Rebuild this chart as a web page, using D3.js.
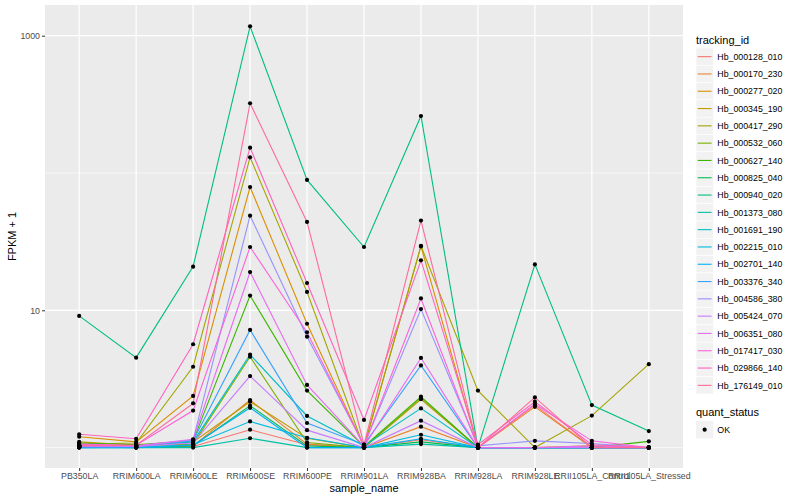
<!DOCTYPE html>
<html>
<head>
<meta charset="utf-8">
<script src="https://cdn.jsdelivr.net/npm/d3@7"></script>
<style>
  body { margin: 0; background: #fff; }
  svg text { font-family: "Liberation Sans", Arial, sans-serif; }
</style>
</head>
<body>
<div id="chart"></div>
<script>
// samples on the x axis
const samples = ["PB350LA", "RRIM600LA", "RRIM600LE", "RRIM600SE", "RRIM600PE", "RRIM901LA",
  "RRIM928BA", "RRIM928LA", "RRIM928LE", "RRII105LA_Control", "RRII105LA_Stressed"];

const trackingIds = ["Hb_000128_010", "Hb_000170_230", "Hb_000277_020", "Hb_000345_190",
  "Hb_000417_290", "Hb_000532_060", "Hb_000627_140", "Hb_000825_040", "Hb_000940_020",
  "Hb_001373_080", "Hb_001691_190", "Hb_002215_010", "Hb_002701_140", "Hb_003376_340",
  "Hb_004586_380", "Hb_005424_070", "Hb_006351_080", "Hb_017417_030", "Hb_029866_140",
  "Hb_176149_010"];

// FPKM + 1, one row per tracking id, one value per sample
const fpkm = [
  [1.02, 1.00, 1.02, 1.35, 1.05, 1.00, 1.14, 1.00, 2.04, 1.00, 1.00],
  [1.03, 1.01, 1.03, 2.22, 1.06, 1.00, 1.42, 1.00, 1.98, 1.00, 1.00],
  [1.20, 1.10, 2.38, 79, 7.98, 1.02, 29.2, 1.00, 1.00, 1.00, 1.00],
  [1.10, 1.04, 1.10, 2.16, 1.17, 1.00, 2.25, 1.00, 1.00, 1.03, 1.00],
  [1.06, 1.08, 3.88, 130, 13.6, 1.00, 29.5, 2.60, 1.00, 1.71, 4.05],
  [1.04, 1.03, 1.06, 4.59, 1.09, 1.00, 2.30, 1.00, 1.00, 1.00, 1.00],
  [1.08, 1.05, 1.12, 12.8, 2.60, 1.02, 2.35, 1.00, 1.00, 1.00, 1.11],
  [1.02, 1.01, 1.03, 2.02, 1.03, 1.00, 1.10, 1.00, 1.00, 1.00, 1.00],
  [9.10, 4.52, 20.8, 1170, 89, 28.9, 260, 1.00, 21.6, 2.04, 1.32],
  [1.00, 1.00, 1.00, 1.17, 1.00, 1.00, 1.06, 1.00, 1.00, 1.00, 1.00],
  [1.02, 1.02, 1.10, 4.75, 1.70, 1.03, 1.93, 1.00, 1.00, 1.00, 1.00],
  [1.01, 1.00, 1.05, 1.55, 1.18, 1.00, 1.24, 1.00, 1.00, 1.00, 1.00],
  [1.00, 1.00, 1.04, 1.95, 1.00, 1.00, 1.16, 1.00, 1.00, 1.00, 1.00],
  [1.00, 1.01, 1.12, 7.19, 1.51, 1.05, 3.97, 1.00, 1.00, 1.00, 1.00],
  [1.02, 1.02, 1.14, 48.9, 6.42, 1.04, 10.2, 1.03, 1.12, 1.07, 1.00],
  [1.03, 1.02, 1.08, 3.32, 1.34, 1.00, 1.57, 1.00, 1.00, 1.00, 1.00],
  [1.04, 1.03, 1.15, 19.0, 2.86, 1.02, 4.50, 1.00, 1.00, 1.03, 1.00],
  [1.06, 1.04, 1.86, 28.9, 6.92, 1.03, 12.2, 1.00, 2.08, 1.12, 1.00],
  [1.25, 1.16, 5.66, 153, 15.8, 1.59, 23.1, 1.05, 2.16, 1.05, 1.00],
  [1.03, 1.04, 2.10, 322, 44, 1.05, 45, 1.00, 2.32, 1.00, 1.00]
];

const yMajor = [10, 1000];
const yMinor = [1, 100];

const width = 800, height = 500;
const panel = { left: 45, right: 683, top: 5, bottom: 468 };

// R style hcl() (polar CIE-Luv) -> hex, like ggplot's hue palette
function hclLuv(h, c, l) {
  const Xn = 95.047, Yn = 100, Zn = 108.883;
  const un = 4 * Xn / (Xn + 15 * Yn + 3 * Zn), vn = 9 * Yn / (Xn + 15 * Yn + 3 * Zn);
  const hr = h * Math.PI / 180;
  const u = c * Math.cos(hr), v = c * Math.sin(hr);
  const Y = l > 8 ? Yn * Math.pow((l + 16) / 116, 3) : Yn * l / 903.3;
  const up = u / (13 * l) + un, vp = v / (13 * l) + vn;
  const X = Y * 9 * up / (4 * vp);
  const Z = Y * (12 - 3 * up - 20 * vp) / (4 * vp);
  const xs = X / 100, ys = Y / 100, zs = Z / 100;
  let r = 3.2404542 * xs - 1.5371385 * ys - 0.4985314 * zs;
  let g = -0.9692660 * xs + 1.8760108 * ys + 0.0415560 * zs;
  let b = 0.0556434 * xs - 0.2040259 * ys + 1.0572252 * zs;
  const gam = t => t <= 0.0031308 ? 12.92 * t : 1.055 * Math.pow(t, 1 / 2.4) - 0.055;
  const cl = t => Math.max(0, Math.min(255, Math.round(255 * gam(t))));
  return d3.rgb(cl(r), cl(g), cl(b)).formatHex();
}

const svg = d3.select("#chart").append("svg")
  .attr("width", width)
  .attr("height", height);

svg.append("rect").attr("width", width).attr("height", height).attr("fill", "#fff");

const x = d3.scalePoint()
  .domain(samples)
  .range([panel.left, panel.right])
  .padding(0.6);

const y = d3.scaleLog()
  .domain([Math.pow(10, -0.1486), Math.pow(10, 3.2236)])
  .range([panel.bottom, panel.top]);

const hues = trackingIds.map((d, i) => 15 + i * 360 / trackingIds.length);
const color = d3.scaleOrdinal()
  .domain(trackingIds)
  .range(hues.map(h => hclLuv(h, 100, 65)));

// panel background + grid
svg.append("rect")
  .attr("x", panel.left).attr("y", panel.top)
  .attr("width", panel.right - panel.left)
  .attr("height", panel.bottom - panel.top)
  .attr("fill", "#EBEBEB");

const grid = svg.append("g");
grid.selectAll(".minor").data(yMinor).enter().append("line")
  .attr("x1", panel.left).attr("x2", panel.right)
  .attr("y1", d => y(d)).attr("y2", d => y(d))
  .attr("stroke", "#fff").attr("stroke-width", 0.6);
grid.selectAll(".major").data(yMajor).enter().append("line")
  .attr("x1", panel.left).attr("x2", panel.right)
  .attr("y1", d => y(d)).attr("y2", d => y(d))
  .attr("stroke", "#fff").attr("stroke-width", 1.2);
grid.selectAll(".vmajor").data(samples).enter().append("line")
  .attr("x1", d => x(d)).attr("x2", d => x(d))
  .attr("y1", panel.top).attr("y2", panel.bottom)
  .attr("stroke", "#fff").attr("stroke-width", 1.2);

// series
const series = trackingIds.map((id, i) => ({
  id: id,
  values: samples.map((s, j) => ({ sample: s, value: fpkm[i][j] }))
}));

const line = d3.line()
  .x(d => x(d.sample))
  .y(d => y(d.value));

svg.append("g").selectAll("path")
  .data(series)
  .enter().append("path")
  .attr("d", d => line(d.values))
  .attr("fill", "none")
  .attr("stroke", d => color(d.id))
  .attr("stroke-width", 1.1);

svg.append("g").selectAll("g")
  .data(series)
  .enter().append("g")
  .selectAll("circle")
  .data(d => d.values)
  .enter().append("circle")
  .attr("cx", d => x(d.sample))
  .attr("cy", d => y(d.value))
  .attr("r", 2.1)
  .attr("fill", "#000");

// axes
const yAxis = svg.append("g")
  .attr("transform", `translate(${panel.left},0)`)
  .call(d3.axisLeft(y).tickValues(yMajor).tickFormat(d3.format("d")).tickSize(3).tickPadding(2));
const xAxis = svg.append("g")
  .attr("transform", `translate(0,${panel.bottom})`)
  .call(d3.axisBottom(x).tickSize(3).tickPadding(2));

[yAxis, xAxis].forEach(a => {
  a.select(".domain").remove();
  a.selectAll(".tick line").attr("stroke", "#333").attr("stroke-width", 1);
  a.selectAll(".tick text").attr("fill", "#4D4D4D").style("font-size", "8.8px");
});

svg.append("text")
  .attr("x", (panel.left + panel.right) / 2)
  .attr("y", 492)
  .attr("text-anchor", "middle")
  .style("font-size", "11px")
  .text("sample_name");

svg.append("text")
  .attr("transform", `translate(16,${(panel.top + panel.bottom) / 2}) rotate(-90)`)
  .attr("text-anchor", "middle")
  .style("font-size", "11px")
  .text("FPKM + 1");

// legend
const legend = svg.append("g").attr("transform", "translate(696,0)");
legend.append("text")
  .attr("x", 0).attr("y", 44)
  .style("font-size", "11px")
  .text("tracking_id");

const keySize = 17.3;
const items = legend.selectAll(".item")
  .data(trackingIds)
  .enter().append("g")
  .attr("transform", (d, i) => `translate(0,${48 + i * keySize})`);
items.append("rect")
  .attr("width", keySize).attr("height", keySize)
  .attr("fill", "#F2F2F2")
  .attr("stroke", "#fff").attr("stroke-width", 0.6);
items.append("line")
  .attr("x1", 1.7).attr("x2", keySize - 1.7)
  .attr("y1", keySize / 2).attr("y2", keySize / 2)
  .attr("stroke", d => color(d))
  .attr("stroke-width", 1.1);
items.append("text")
  .attr("x", keySize + 4).attr("y", keySize / 2 + 3.2)
  .style("font-size", "8.8px")
  .text(d => d);

legend.append("text")
  .attr("x", 0).attr("y", 416)
  .style("font-size", "11px")
  .text("quant_status");
const ok = legend.append("g").attr("transform", "translate(0,421)");
ok.append("rect").attr("width", keySize).attr("height", keySize).attr("fill", "#F2F2F2");
ok.append("circle").attr("cx", keySize / 2).attr("cy", keySize / 2).attr("r", 2.1).attr("fill", "#000");
ok.append("text")
  .attr("x", keySize + 4).attr("y", keySize / 2 + 3.2)
  .style("font-size", "8.8px")
  .text("OK");
</script>
</body>
</html>
